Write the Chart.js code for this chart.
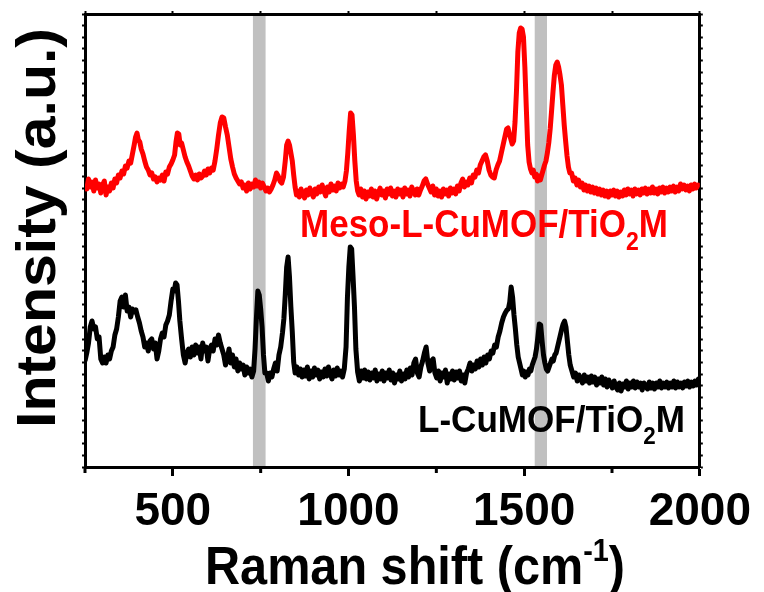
<!DOCTYPE html>
<html><head><meta charset="utf-8">
<script src="https://cdn.jsdelivr.net/npm/chart.js@4/dist/chart.umd.min.js"></script>
<style>html,body{margin:0;padding:0;background:#fff}</style>
</head><body>
<canvas id="c" width="764" height="592" style="width:764px;height:592px;display:block"></canvas>
<script>
// ---- data (intensity in arbitrary units) ----
const shiftMeso = [
250,255,260,265,270,275,280,285,290,295,300,305,310,315,320,325,330,335,340,345,350,355,360,365,370,375,380,385,390,
394,398,402,406,
410,415,420,425,430,435,440,445,450,455,460,465,470,475,480,485,490,495,500,505,
509,513,517,521,525,
530,535,540,545,550,555,560,565,570,575,580,585,590,595,600,605,610,615,620,625,630,635,640,645,650,655,660,665,670,675,680,685,690,695,700,705,710,715,720,725,730,735,740,745,750,755,760,765,770,775,780,785,790,795,800,805,810,815,820,
824,828,832,836,840,844,848,852,856,
860,865,870,875,880,885,890,895,900,905,910,915,920,925,930,935,940,945,950,955,960,965,970,975,980,985,990,
994,998,1002,1006,1010,1014,1018,1022,1026,
1030,1035,1040,1045,1050,1055,1060,1065,1070,1075,1080,1085,1090,1095,1100,1105,1110,1115,1120,1125,1130,1135,1140,1145,1150,1155,1160,1165,1170,1175,1180,1185,1190,1195,1200,1205,1210,1215,1220,1225,1230,1235,1240,1245,1250,1255,1260,1265,1270,1275,1280,1285,1290,1295,1300,1305,1310,1315,1320,1325,1330,1335,1340,1345,1350,1355,1360,1365,1370,1375,1380,1385,1390,1395,1400,1405,1410,1415,1420,1425,1430,1435,1440,1445,1450,
1454,1458,1462,1466,1470,1474,1478,1482,1486,1490,1494,1498,1502,1506,1510,1514,1518,1522,1526,1530,1534,1538,1542,1546,1550,1554,1558,1562,1566,1570,1574,1578,1582,1586,1590,1594,1598,1602,1606,1610,1614,1618,1622,1626,1630,
1635,1640,1645,1650,1655,1660,1665,1670,1675,1680,1685,1690,1695,1700,1705,1710,1715,1720,1725,1730,1735,1740,1745,1750,1755,1760,1765,1770,1775,1780,1785,1790,1795,1800,1805,1810,1815,1820,1825,1830,1835,1840,1845,1850,1855,1860,1865,1870,1875,1880,1885,1890,1895,1900,1905,1910,1915,1920,1925,1930,1935,1940,1945,1950,1955,1960,1965,1970,1975,1980,1985,1990,1995,2000];
const intensityMeso = [
283,278,288,280,285,276,287,279,283,274,282,286,272,280,276,284,279,288,284,292,289,296,293,301,299,306,304,313,322,
330,334,327,325,
318,313,306,300,297,292,294,288,290,285,289,287,292,286,295,293,300,303,307,312,
325,334,333,322,324,
317,310,305,301,296,291,288,292,287,293,289,291,296,292,298,294,299,297,306,318,332,344,350,349,340,332,320,308,300,293,289,286,283,285,279,282,276,284,278,283,280,287,281,285,279,284,280,276,279,275,278,282,287,294,291,286,284,290,306,
322,326,322,314,306,292,280,272,276,
270,278,273,269,277,272,279,274,270,278,273,280,275,282,276,271,280,275,283,277,281,276,284,279,283,280,286,
296,314,336,354,352,332,306,286,276,
272,278,270,276,268,275,271,278,270,276,268,274,279,272,276,269,278,273,279,271,276,270,278,273,277,270,279,273,277,271,280,276,272,278,272,277,281,286,288,283,279,275,281,272,278,271,276,270,278,273,277,271,279,274,278,273,281,276,284,288,280,285,282,289,284,292,290,297,294,302,306,310,312,306,297,292,290,289,297,302,306,314,322,330,338,
339,333,328,323,326,345,375,415,434,439,438,430,400,360,322,305,298,294,297,290,293,286,291,287,292,297,302,306,314,324,338,356,375,392,402,405,400,392,382,362,342,326,311,300,294,
294,286,289,282,287,280,284,277,282,276,281,275,280,274,279,273,278,272,277,271,276,270,276,272,277,271,276,270,275,271,277,272,278,273,277,271,278,273,277,272,278,274,279,273,278,274,280,274,278,273,279,275,280,274,279,275,280,276,281,275,280,276,283,278,282,277,281,276,282,278,283,279,282,280];
const shiftL = [
250,255,260,265,270,275,280,285,290,295,300,305,310,315,320,325,330,335,340,345,350,355,360,365,370,375,380,385,390,395,400,405,410,415,420,425,430,435,440,445,450,455,460,465,470,475,480,485,490,495,500,
504,508,512,516,520,
525,530,535,540,545,550,555,560,565,570,575,580,585,590,595,600,605,610,615,620,625,630,635,640,645,650,655,660,665,670,675,680,685,690,695,700,705,710,715,720,725,730,
734,738,742,746,750,754,758,762,
767,772,777,782,787,792,797,802,807,812,
816,820,824,828,832,836,840,844,848,
853,858,863,868,873,878,883,888,893,898,903,908,913,918,923,928,933,938,943,948,953,958,963,968,973,978,983,988,993,
997,1001,1005,1009,1013,1017,1021,
1026,1031,1036,1041,1046,1051,1056,1061,1066,1071,1076,1081,1086,1091,1096,1101,1106,1111,1116,1121,1126,1131,1136,1141,1146,1151,1156,1161,1166,1171,1176,1181,1186,1191,1196,1201,1206,1211,1216,1221,1226,1231,1236,1241,1246,1251,1256,1261,1266,1271,1276,1281,1286,1291,1296,1301,1306,1311,1316,1321,1326,1331,1336,1341,1346,1351,1356,1361,1366,1371,1376,1381,1386,1391,1396,1401,1406,1411,1416,1421,1426,1431,1436,1441,1446,1451,
1455,1459,1463,1467,1471,1475,1479,1483,1487,1491,1495,1499,1503,1507,1511,1515,1519,1523,1527,1531,1535,1539,1543,1547,1551,1555,1559,1563,1567,1571,1575,1579,1583,1587,1591,1595,1599,1603,1607,1611,1615,1619,1623,1627,1631,
1636,1641,1646,1651,1656,1661,1666,1671,1676,1681,1686,1691,1696,1701,1706,1711,1716,1721,1726,1731,1736,1741,1746,1751,1756,1761,1766,1771,1776,1781,1786,1791,1796,1801,1806,1811,1816,1821,1826,1831,1836,1841,1846,1851,1856,1861,1866,1871,1876,1881,1886,1891,1896,1901,1906,1911,1916,1921,1926,1931,1936,1941,1946,1951,1956,1961,1966,1971,1976,1981,1986,1991,1996,2000];
const intensityL = [
106,114,124,140,146,138,140,128,130,108,104,110,104,112,108,116,120,132,138,150,166,170,160,172,156,160,150,158,155,157,150,144,136,130,120,124,116,126,128,118,124,108,116,128,134,130,142,146,152,166,178,
176,184,182,166,146,
128,112,104,114,118,110,120,112,122,114,120,108,124,116,120,106,118,122,116,128,122,132,124,118,112,102,108,118,104,112,100,108,96,104,98,102,92,100,94,98,90,96,
118,150,176,172,158,140,112,94,
94,86,94,90,98,104,96,112,120,134,
148,172,200,210,190,160,135,105,94,
100,92,98,90,97,91,100,88,96,90,99,92,97,88,95,90,98,91,100,93,88,97,91,99,92,96,90,98,120,
170,200,220,218,190,160,118,
95,86,96,89,97,88,95,87,94,89,97,86,93,88,96,86,94,89,97,87,94,84,92,88,96,86,93,88,97,90,99,92,104,108,94,90,100,106,114,120,104,96,106,108,94,89,96,86,94,90,97,84,93,88,96,87,95,89,96,86,92,84,94,98,104,96,102,98,106,100,108,102,110,104,112,108,116,114,122,120,130,136,144,150,154,157,
158,165,180,170,152,138,122,110,104,98,92,96,90,95,92,98,96,102,106,110,118,130,143,142,126,112,104,98,96,100,104,108,106,112,114,120,126,132,138,143,146,140,126,112,102,
96,90,94,86,92,88,84,92,86,90,84,91,85,90,82,88,84,90,82,88,80,87,83,79,86,80,77,84,76,83,80,86,78,84,80,86,79,85,80,84,77,84,81,78,85,79,84,78,84,80,86,79,84,80,85,79,84,80,86,79,85,80,84,79,85,81,86,80,85,81,86,82,88,86];
const xTicks = [250,500,750,1000,1250,1500,1750,2000];
const xLabelled = [500,1000,1500,2000];
const bandStart = [728,1530];
const bandEnd = [764,1565];
const yMax = 453;
const yTickCount = 39;

const FONT = '"Liberation Sans", Arial, Helvetica, sans-serif';

function drawRich(ctx, parts, x, y, size, targetW, color) {
  ctx.save();
  ctx.fillStyle = color;
  ctx.textBaseline = 'alphabetic';
  ctx.textAlign = 'left';
  let w = 0;
  const ws = parts.map(p => { ctx.font = 'bold ' + Math.round(size * p.s) + 'px ' + FONT; const m = ctx.measureText(p.t).width; w += m; return m; });
  const sx = targetW ? targetW / w : 1;
  ctx.translate(x, y);
  ctx.scale(sx, 1);
  let cx = 0;
  parts.forEach((p, i) => { ctx.font = 'bold ' + Math.round(size * p.s) + 'px ' + FONT; ctx.fillText(p.t, cx, p.dy * size); cx += ws[i]; });
  ctx.restore();
}

const decor = {
  id: 'decor',
  beforeDatasetsDraw(chart) {
    const {ctx, chartArea, scales} = chart;
    ctx.save();
    ctx.fillStyle = '#c0c0c0';
    for (let i = 0; i < bandStart.length; i++) {
      const a = scales.x.getPixelForValue(bandStart[i]);
      const b = scales.x.getPixelForValue(bandEnd[i]);
      ctx.fillRect(a, chartArea.top + 2, b - a, chartArea.bottom - chartArea.top - 3);
    }
    ctx.restore();
  },
  afterDraw(chart) {
    const {ctx, chartArea, scales} = chart;
    ctx.save();
    ctx.strokeStyle = '#000';
    ctx.lineWidth = 3;
    xTicks.filter(v => !xLabelled.includes(v)).forEach(v => {
      const px = scales.x.getPixelForValue(v);
      ctx.beginPath(); ctx.moveTo(px, chartArea.bottom); ctx.lineTo(px, chartArea.bottom + 6); ctx.stroke();
    });
    ctx.restore();
    drawRich(ctx, [{t:'Raman shift (cm', s:1, dy:0}, {t:'-1', s:0.6, dy:-0.42}, {t:')', s:1, dy:0}], 205, 584, 54, 420, '#000');
    ctx.save();
    ctx.translate(55, 428);
    ctx.rotate(-Math.PI / 2);
    drawRich(ctx, [{t:'Intensity (a.u.)', s:1, dy:0}], 0, 0, 56, 400, '#000');
    ctx.restore();
    drawRich(ctx, [{t:'Meso-L-CuMOF/TiO', s:1, dy:0}, {t:'2', s:0.65, dy:0.33}, {t:'M', s:1, dy:0}], 300, 237, 38, 368, '#ff0000');
    drawRich(ctx, [{t:'L-CuMOF/TiO', s:1, dy:0}, {t:'2', s:0.65, dy:0.33}, {t:'M', s:1, dy:0}], 418, 432, 36, 267, '#000');
  }
};

const yTickBuilder = s => { const t = []; for (let i = 0; i <= yTickCount; i++) t.push({value: i * yMax / yTickCount}); s.ticks = t; };

new Chart(document.getElementById('c'), {
  type: 'line',
  data: {
    datasets: [
      {label: 'Meso-L-CuMOF/TiO2M', data: shiftMeso.map((x, i) => ({x, y: intensityMeso[i]})), borderColor: '#ff0000', borderWidth: 5, pointRadius: 0, fill: false, tension: 0, borderJoinStyle: 'round'},
      {label: 'L-CuMOF/TiO2M', data: shiftL.map((x, i) => ({x, y: intensityL[i]})), borderColor: '#000000', borderWidth: 5, pointRadius: 0, fill: false, tension: 0, borderJoinStyle: 'round'}
    ]
  },
  options: {
    responsive: false,
    animation: false,
    devicePixelRatio: 1,
    layout: {padding: 0},
    plugins: {legend: {display: false}, tooltip: {enabled: false}},
    scales: {
      x: {
        type: 'linear', position: 'bottom', min: 250, max: 2000,
        afterBuildTicks: s => { s.ticks = xTicks.map(v => ({value: v})); },
        afterFit: s => { s.height = 125; },
        ticks: {callback: v => xLabelled.includes(v) ? String(v) : '', autoSkip: false, maxRotation: 0, padding: 13, color: '#000', font: {family: FONT, size: 46, weight: 'bold', lineHeight: 1}},
        grid: {drawOnChartArea: false, drawTicks: true, tickLength: 9, tickWidth: 3, tickColor: c => (c.tick && xLabelled.includes(c.tick.value)) ? '#000' : 'rgba(0,0,0,0)'},
        border: {display: true, width: 3, color: '#000'}
      },
      xTop: {
        type: 'linear', position: 'top', min: 250, max: 2000,
        afterBuildTicks: s => { s.ticks = xTicks.map(v => ({value: v})); },
        afterFit: s => { s.height = 14; },
        ticks: {display: false},
        grid: {drawOnChartArea: false, drawTicks: true, tickLength: 3, tickWidth: 2, tickColor: '#000'},
        border: {display: true, width: 3, color: '#000'}
      },
      y: {
        type: 'linear', position: 'left', min: 0, max: yMax,
        afterBuildTicks: yTickBuilder,
        afterFit: s => { s.width = 85; },
        ticks: {display: false},
        grid: {drawOnChartArea: false, drawTicks: true, tickLength: 3, tickWidth: 2, tickColor: '#000'},
        border: {display: true, width: 3, color: '#000'}
      },
      yRight: {
        type: 'linear', position: 'right', min: 0, max: yMax,
        afterBuildTicks: yTickBuilder,
        afterFit: s => { s.width = 62; },
        ticks: {display: false},
        grid: {drawOnChartArea: false, drawTicks: true, tickLength: 3, tickWidth: 2, tickColor: '#000'},
        border: {display: true, width: 3, color: '#000'}
      }
    }
  },
  plugins: [decor]
});
</script>
</body></html>
